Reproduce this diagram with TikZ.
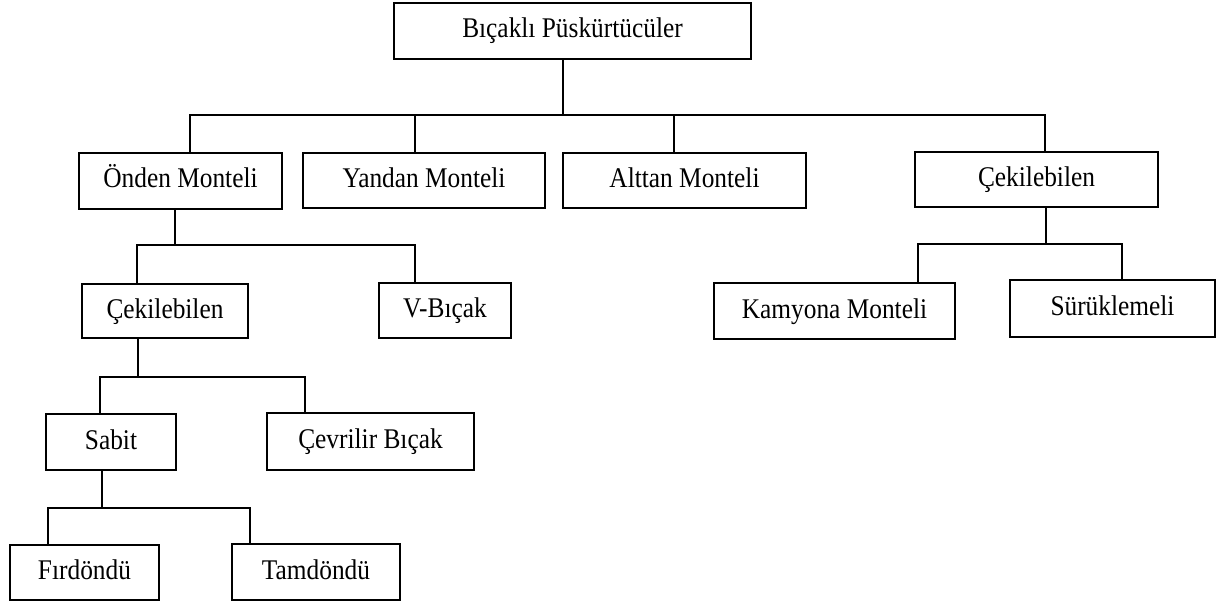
\documentclass[tikz,border=0pt]{standalone}
\usepackage{fontspec}
\setmainfont[FakeStretch=0.89]{Liberation Serif}
\begin{document}
\begin{tikzpicture}[x=1pt,y=1pt,
  box/.style={draw, line width=2pt, rectangle, inner sep=0pt, align=center,
              text height=20pt, text depth=6pt,
              font=\fontsize{28.5}{32}\selectfont},
  link/.style={draw, line width=2pt}]
\useasboundingbox (0,0) rectangle (1224,-607);

% boxes
\node[box, minimum width=357, minimum height=56] (top)   at (572.5,-31)   {Bıçaklı Püskürtücüler};
\node[box, minimum width=203, minimum height=56] (onden) at (180.5,-181)  {Önden Monteli};
\node[box, minimum width=242, minimum height=55] (yandan) at (424,-180.5) {Yandan Monteli};
\node[box, minimum width=243, minimum height=55] (alttan) at (684.5,-180.5) {Alttan Monteli};
\node[box, minimum width=243, minimum height=55] (cekA)  at (1036.5,-179.5) {Çekilebilen};
\node[box, minimum width=166, minimum height=54] (cekB)  at (165,-311)    {Çekilebilen};
\node[box, minimum width=132, minimum height=55] (vbicak) at (445,-310.5) {V-Bıçak};
\node[box, minimum width=241, minimum height=56] (kamyona) at (834.5,-311) {Kamyona Monteli};
\node[box, minimum width=205, minimum height=57] (surukle) at (1112.5,-308.5) {Sürüklemeli};
\node[box, minimum width=130, minimum height=56] (sabit) at (111,-442)    {Sabit};
\node[box, minimum width=207, minimum height=57] (cevrilir) at (370.5,-441.5) {Çevrilir Bıçak};
\node[box, minimum width=149, minimum height=55] (firdondu) at (84.5,-572.5) {Fırdöndü};
\node[box, minimum width=168, minimum height=56] (tamdondu) at (316,-572)  {Tamdöndü};

% junction points of the connector buses
\coordinate (t0) at (563,-115);
\coordinate (j1) at (190,-115);
\coordinate (j2) at (415,-115);
\coordinate (j3) at (674,-115);
\coordinate (j4) at (1045,-115);

\coordinate (t1) at (175,-245);
\coordinate (k1) at (137,-245);
\coordinate (k2) at (415,-245);

\coordinate (t2) at (1046,-244);
\coordinate (m1) at (918,-244);
\coordinate (m2) at (1122,-244);

\coordinate (t3) at (138,-377);
\coordinate (n1) at (100,-377);
\coordinate (n2) at (305,-377);

\coordinate (t4) at (102,-508);
\coordinate (p1) at (48,-508);
\coordinate (p2) at (250,-508);

% level 1
\draw[link] (top.south -| t0) -- (t0);
\draw[link] (j1 |- onden.north) -- (j1) -- (j4) -- (j4 |- cekA.north);
\draw[link] (j2) -- (j2 |- yandan.north);
\draw[link] (j3) -- (j3 |- alttan.north);

% under Önden Monteli
\draw[link] (onden.south -| t1) -- (t1);
\draw[link] (k1 |- cekB.north) -- (k1) -- (k2) -- (k2 |- vbicak.north);

% under the right Çekilebilen
\draw[link] (cekA.south -| t2) -- (t2);
\draw[link] (m1 |- kamyona.north) -- (m1) -- (m2) -- (m2 |- surukle.north);

% under the left Çekilebilen
\draw[link] (cekB.south -| t3) -- (t3);
\draw[link] (n1 |- sabit.north) -- (n1) -- (n2) -- (n2 |- cevrilir.north);

% under Sabit
\draw[link] (sabit.south -| t4) -- (t4);
\draw[link] (p1 |- firdondu.north) -- (p1) -- (p2) -- (p2 |- tamdondu.north);
\end{tikzpicture}
\end{document}
